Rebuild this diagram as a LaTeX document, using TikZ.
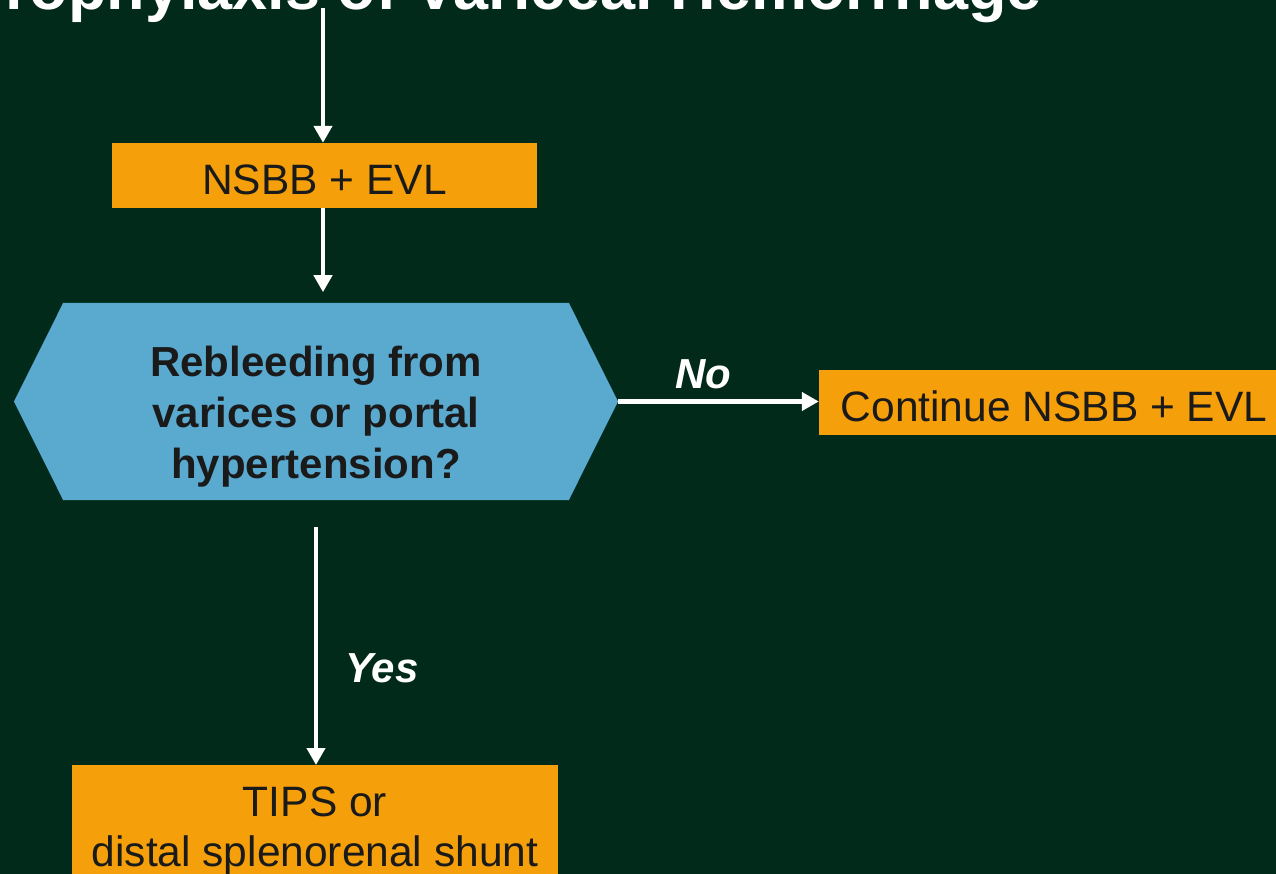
\documentclass[tikz,border=0pt]{standalone}
\usepackage{fontspec}
\setmainfont{Liberation Sans}
\usetikzlibrary{arrows.meta,shapes.symbols}

\definecolor{slidebg}{RGB}{1,42,26}
\definecolor{boxorange}{RGB}{245,160,10}
\definecolor{askblue}{RGB}{90,170,208}
\definecolor{inkdark}{RGB}{26,26,26}

\begin{document}
\begin{tikzpicture}[x=1pt,y=-1pt,
  action/.style={rectangle,fill=boxorange,inner sep=0},
  question/.style={signal,signal to=east and west,signal pointer angle=127,
    fill=askblue,inner sep=0,minimum width=604,minimum height=197},
  boxtext/.style={text=inkdark,inner sep=0,align=center,
    font=\fontsize{42.5}{50}\selectfont},
  asktext/.style={text=inkdark,inner sep=0,align=center,
    font=\fontsize{42}{51}\selectfont\bfseries},
  flow/.style={draw=white,line width=4.5,-{Triangle[width=18,length=17]}},
  answer/.style={text=white,font=\fontsize{42}{50}\selectfont\bfseries\itshape}]

  % page
  \useasboundingbox (0,0) rectangle (1276,874);
  \fill[slidebg] (0,0) rectangle (1276,874);
  \clip (0,0) rectangle (1276,874);

  % title, cut at the top
  \node[anchor=base east,inner sep=0,text=white,
    font=\fontsize{63}{70}\selectfont\bfseries] (title) at (1042,10)
    {Prophylaxis of Variceal Hemorrhage};

  % boxes
  \node[action,minimum width=425,minimum height=65] (nsbb) at (324.5,175.5) {};
  \node[boxtext] (nsbbtext) at ([yshift=-4]nsbb.center) {NSBB + EVL};

  \node[question] (rebleed) at (316,401.5) {};
  \node[asktext] (rebleedtext) at ([yshift=-15]rebleed.center)
    {Rebleeding from\\varices or portal\\hypertension?};

  \node[action,minimum width=470,minimum height=65] (cont) at (1054,402.5) {};
  \node[boxtext] (conttext) at ([yshift=-4]cont.center) {Continue NSBB + EVL};

  \node[action,minimum width=486,minimum height=130,anchor=north] (tips) at (315,765) {};
  \node[boxtext] (tipstext) at (315,831) {TIPS or\\distal splenorenal shunt};

  % arrows
  \coordinate (top) at (323,8);
  \coordinate (yesstart) at (316,527);
  \draw[flow] (top) -- (nsbb.north -| top);
  \draw[flow] (nsbb.south -| top) -- ++(0,84);
  \draw[flow] (rebleed.east) -- (cont.west |- rebleed.east);
  \draw[flow] (yesstart) -- (tips.north -| yesstart);

  % answers
  \node[answer] (no) at (703,374) {No};
  \node[answer] (yes) at (382,668) {Yes};
\end{tikzpicture}
\end{document}
